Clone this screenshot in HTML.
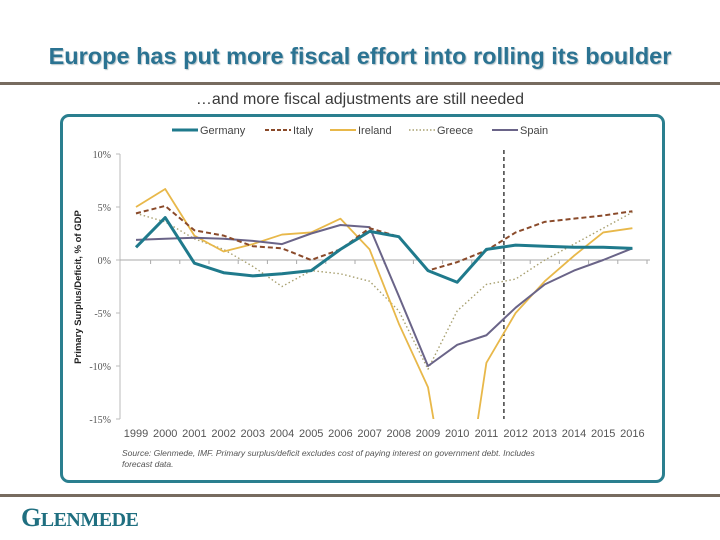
<!DOCTYPE html>
<html><head><meta charset="utf-8"><style>
body{margin:0;width:720px;height:540px;background:#fff;position:relative;overflow:hidden;font-family:"Liberation Sans",sans-serif}
#title{position:absolute;left:0;width:720px;top:43px;text-align:center;font-size:23.5px;font-weight:bold;color:#2b7392;text-shadow:1px 1px 1px #b8c4c8}
.rule{position:absolute;left:0;width:720px;height:3px;background:#776b5f}
#sub{position:absolute;left:0;width:720px;top:91px;text-align:center;font-size:16px;color:#3a3a3a}
#box{position:absolute;left:60px;top:114px;width:599px;height:363px;border:3px solid #2a7f8f;border-radius:9px}
#logo{position:absolute;left:21px;top:503px;font-family:"Liberation Serif",serif;font-weight:bold;font-size:26px;color:#1f6f80;letter-spacing:-0.5px}
</style></head><body>
<div id="title">Europe has put more fiscal effort into rolling its boulder</div>
<div class="rule" style="top:82px"></div>
<div id="sub">…and more fiscal adjustments are still needed</div>
<div id="box"></div>
<svg id="chart" width="720" height="540" style="position:absolute;left:0;top:0"></svg>
<div class="rule" style="top:494px"></div>
<div id="logo">G<span style="font-size:20px">LENMEDE</span></div>
<script>
const years=["1999","2000","2001","2002","2003","2004","2005","2006","2007","2008","2009","2010","2011","2012","2013","2014","2015","2016"];
const germany=[1.2,4.0,-0.3,-1.2,-1.5,-1.3,-1.0,1.0,2.7,2.2,-1.0,-2.1,1.0,1.4,1.3,1.2,1.2,1.1];
const italy=[4.4,5.1,2.8,2.3,1.3,1.1,0.0,1.0,3.0,2.2,-1.0,-0.2,0.9,2.6,3.6,3.9,4.2,4.6];
const ireland=[5.0,6.7,2.3,0.8,1.5,2.4,2.6,3.9,1.0,-6.0,-12.0,-28.0,-9.7,-5.0,-2.0,0.4,2.6,3.0];
const greece=[4.4,3.6,2.0,1.0,-0.6,-2.5,-1.0,-1.3,-2.0,-4.8,-10.3,-4.8,-2.3,-1.8,0.0,1.5,3.0,4.5];
const spain=[1.9,2.0,2.1,2.0,1.8,1.5,2.5,3.3,3.1,-3.4,-10.0,-8.0,-7.1,-4.5,-2.3,-1.0,0.0,1.1];
const yTicks=[10,5,0,-5,-10,-15];
const yTickLabels=["10%","5%","0%","-5%","-10%","-15%"];
const forecastStart=12.6;
const NS="http://www.w3.org/2000/svg";
const svg=document.getElementById('chart');
const x0=136,dx=29.2,yTop=154,yBot=419;
const X=i=>x0+i*dx;
const Y=v=>yTop+(10-v)/25*(yBot-yTop);
function el(t,a){const e=document.createElementNS(NS,t);for(const k in a)e.setAttribute(k,a[k]);svg.appendChild(e);return e;}
const defs=el('defs',{});const cp=document.createElementNS(NS,'clipPath');cp.setAttribute('id','pc');
const r=document.createElementNS(NS,'rect');r.setAttribute('x',100);r.setAttribute('y',yTop-10);r.setAttribute('width',560);r.setAttribute('height',yBot-yTop+10);cp.appendChild(r);defs.appendChild(cp);
let a=el('line',{x1:120,x2:120,y1:yTop,y2:yBot,stroke:'#bbb','stroke-width':1});


a=el('line',{x1:120,x2:650,y1:Y(0),y2:Y(0),stroke:'#aaa','stroke-width':1});


yTicks.forEach((v,i)=>{
 const t=el('text',{x:111,y:Y(v)+4,'text-anchor':'end','font-size':10,'font-family':'Liberation Serif, serif',fill:'#555'});t.textContent=yTickLabels[i];
 
 
 el('line',{x1:116,x2:120,y1:Y(v),y2:Y(v),stroke:'#bbb'});
});
years.forEach((yr,i)=>{
 const t=el('text',{x:X(i),y:437,'text-anchor':'middle','font-size':11,fill:'#555'});t.textContent=yr;
 
 
 el('line',{x1:X(i)+dx/2,x2:X(i)+dx/2,y1:Y(0),y2:Y(0)+4,stroke:'#aaa'});
});
const yl=el('text',{transform:'translate(81,287) rotate(-90)','text-anchor':'middle','font-size':9.5,'font-weight':'bold',fill:'#222'});
yl.textContent='Primary Surplus/Deficit, % of GDP';


const fl=el('line',{x1:X(forecastStart),x2:X(forecastStart),y1:150,y2:yBot,stroke:'#111','stroke-width':1.2,'stroke-dasharray':'4,3'});


const series=[
 {n:'greece',d:greece,c:'#a8a070',w:1.4,da:'1.5,2.5'},
 {n:'ireland',d:ireland,c:'#e8b84a',w:1.8,da:''},
 {n:'spain',d:spain,c:'#6a6488',w:2,da:''},
 {n:'italy',d:italy,c:'#8a4a2a',w:2,da:'5,3'},
 {n:'germany',d:germany,c:'#1f7a8c',w:3,da:''}];
series.forEach(s=>{
 const p=el('polyline',{points:s.d.map((v,i)=>X(i)+','+Y(v)).join(' '),fill:'none',stroke:s.c,'stroke-width':s.w,'stroke-dasharray':s.da,'clip-path':'url(#pc)','stroke-linejoin':'round'});
 
 
});
const leg=[['Germany','#1f7a8c',3,''],['Italy','#8a4a2a',2,'4,2'],['Ireland','#e8b84a',2,''],['Greece','#a8a070',1.4,'1.5,2'],['Spain','#6a6488',2,'']];
const lx=[172,265,330,409,492];
leg.forEach((e,i)=>{
 const g=el('line',{x1:lx[i],x2:lx[i]+26,y1:130,y2:130,stroke:e[1],'stroke-width':e[2],'stroke-dasharray':e[3]});
 
 
 const t=el('text',{x:lx[i]+28,y:134,'font-size':11,fill:'#444'});t.textContent=e[0];
 
 
});
const s1=el('text',{x:122,y:456,'font-size':8.5,'font-style':'italic',fill:'#555'});s1.textContent='Source: Glenmede, IMF. Primary surplus/deficit excludes cost of paying interest on government debt. Includes';


const s2=el('text',{x:122,y:467,'font-size':8.5,'font-style':'italic',fill:'#555'});s2.textContent='forecast data.';


</script>
</body></html>
